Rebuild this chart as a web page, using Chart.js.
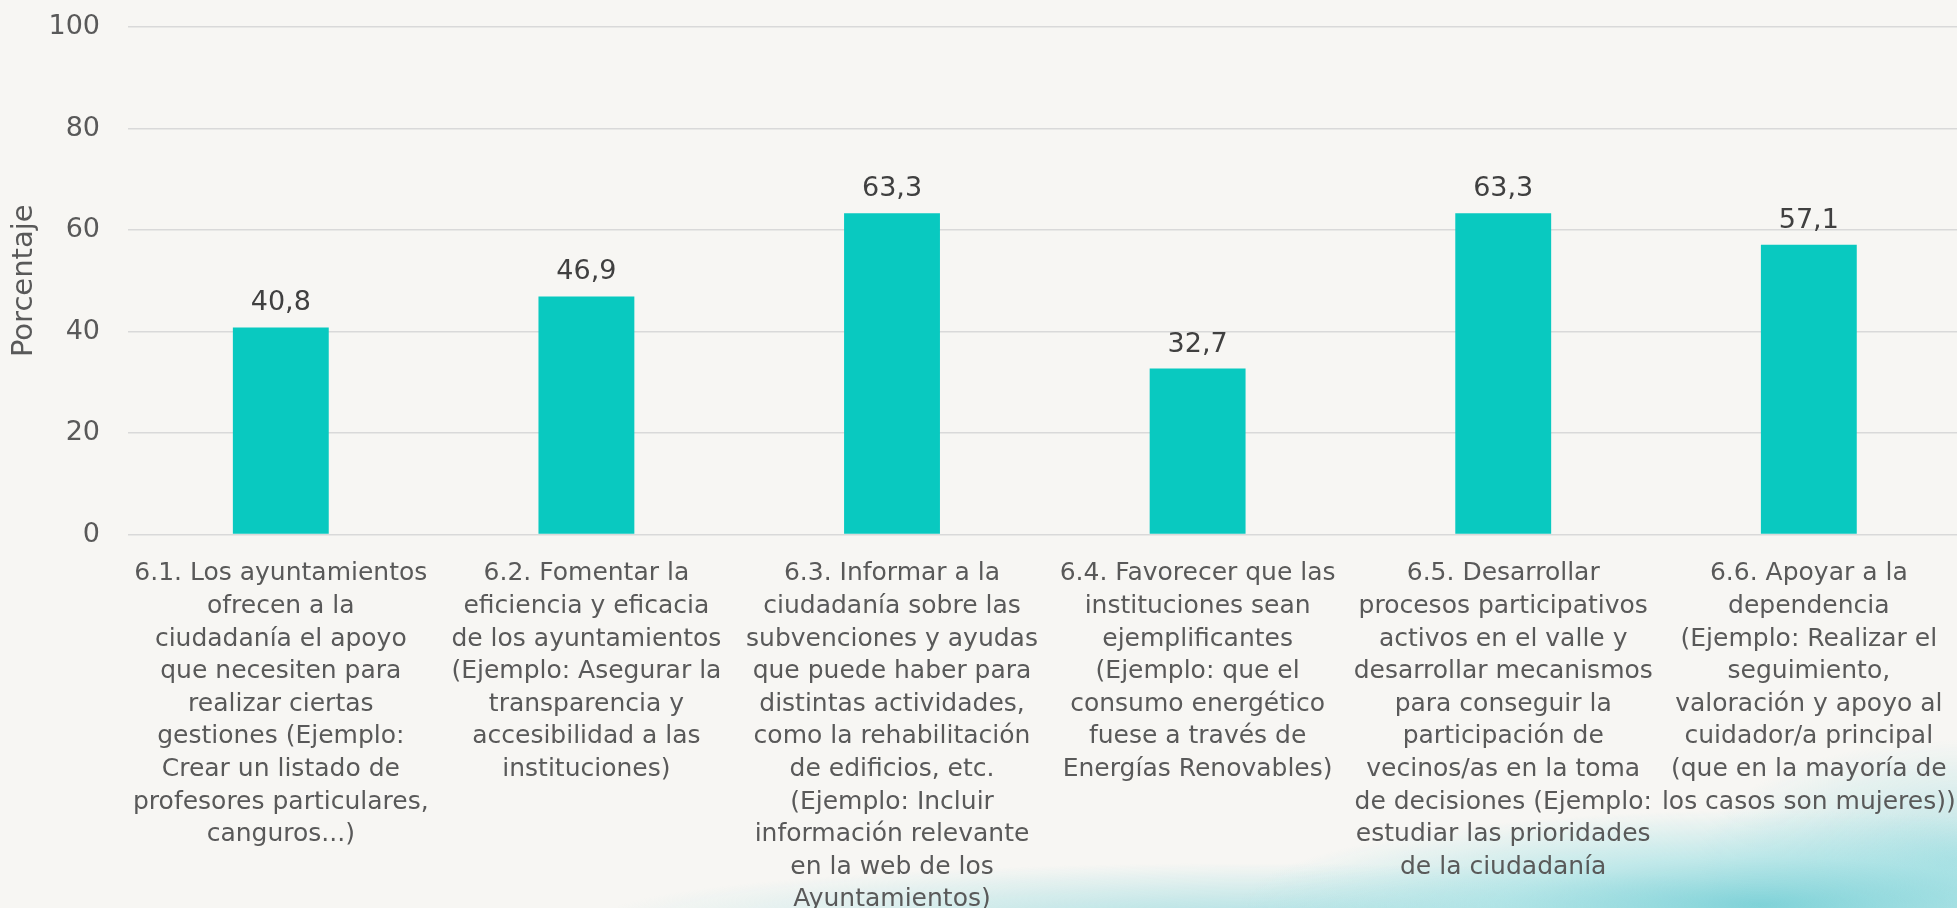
<!DOCTYPE html>
<html>
<head>
<meta charset="utf-8">
<script src="https://cdn.jsdelivr.net/npm/chart.js@4.4.0/dist/chart.umd.min.js"></script>
<style>
html,body{margin:0;padding:0;width:1957px;height:908px;overflow:hidden;}
body{
  background:
    radial-gradient(ellipse 520px 95px at 1760px 905px, rgba(110,205,212,0.85), rgba(150,222,226,0.55) 50%, rgba(247,246,243,0) 100%),
    radial-gradient(ellipse 650px 55px at 1250px 918px, rgba(130,212,218,0.6), rgba(247,246,243,0) 100%),
    radial-gradient(ellipse 260px 120px at 1957px 860px, rgba(140,215,220,0.6), rgba(247,246,243,0) 100%),
    #f7f6f3;
}
#wrap{position:absolute;left:0;top:0;width:1980px;height:908px;}
</style>
</head>
<body>
<div id="wrap"><canvas id="c"></canvas></div>
<script>
// ---- data ----
const categories = [
  ["6.1. Los ayuntamientos","ofrecen a la","ciudadanía el apoyo","que necesiten para","realizar ciertas","gestiones (Ejemplo:","Crear un listado de","profesores particulares,","canguros...)"],
  ["6.2. Fomentar la","eficiencia y eficacia","de los ayuntamientos","(Ejemplo: Asegurar la","transparencia y","accesibilidad a las","instituciones)"],
  ["6.3. Informar a la","ciudadanía sobre las","subvenciones y ayudas","que puede haber para","distintas actividades,","como la rehabilitación","de edificios, etc.","(Ejemplo: Incluir","información relevante","en la web de los","Ayuntamientos)"],
  ["6.4. Favorecer que las","instituciones sean","ejemplificantes","(Ejemplo: que el","consumo energético","fuese a través de","Energías Renovables)"],
  ["6.5. Desarrollar","procesos participativos","activos en el valle y","desarrollar mecanismos","para conseguir la","participación de","vecinos/as en la toma","de decisiones (Ejemplo:","estudiar las prioridades","de la ciudadanía"],
  ["6.6. Apoyar a la","dependencia","(Ejemplo: Realizar el","seguimiento,","valoración y apoyo al","cuidador/a principal","(que en la mayoría de","los casos son mujeres))"]
];
const values = [40.8, 46.9, 63.3, 32.7, 63.3, 57.1];
const yTicks = [0, 20, 40, 60, 80, 100];
const yTitle = "Porcentaje";

const FONT = '"DejaVu Sans", sans-serif';

const valueLabels = {
  id: 'valueLabels',
  afterDatasetsDraw(chart) {
    const ctx = chart.ctx;
    const meta = chart.getDatasetMeta(0);
    ctx.save();
    ctx.font = '27px ' + FONT;
    ctx.fillStyle = '#404040';
    ctx.textAlign = 'center';
    ctx.textBaseline = 'alphabetic';
    meta.data.forEach((bar, i) => {
      const txt = values[i].toFixed(1).replace('.', ',');
      ctx.fillText(txt, bar.x, bar.y - 17);
    });
    ctx.restore();
  }
};

new Chart(document.getElementById('c'), {
  type: 'bar',
  data: {
    labels: categories,
    datasets: [{
      data: values,
      backgroundColor: '#09c9c0',
      borderWidth: 0,
      barPercentage: 96 / 306,
      categoryPercentage: 1
    }]
  },
  options: {
    responsive: true,
    maintainAspectRatio: false,
    animation: false,
    layout: { padding: { top: 27, right: 15, left: 0, bottom: 0 } },
    plugins: { legend: { display: false }, tooltip: { enabled: false } },
    scales: {
      x: {
        offset: true,
        grid: { display: false, drawTicks: false },
        border: { display: false },
        ticks: {
          autoSkip: false,
          maxRotation: 0,
          minRotation: 0,
          padding: 23,
          color: '#595959',
          font: { family: FONT, size: 25, lineHeight: 32.6 / 25 }
        },
        afterFit(scale) { scale.height = 373.5; }
      },
      y: {
        min: 0,
        max: 100,
        afterBuildTicks(scale) { scale.ticks = yTicks.map(v => ({ value: v })); },
        grid: { color: '#d9d9d9', lineWidth: 1.6, drawTicks: false },
        border: { display: false },
        ticks: {
          padding: 28,
          color: '#595959',
          font: { family: FONT, size: 27 }
        },
        title: {
          display: true,
          text: yTitle,
          color: '#595959',
          font: { family: FONT, size: 29 },
          padding: { top: 7, bottom: 0 }
        },
        afterFit(scale) {
          scale.width = 128;
          scale.paddingTop = 0;
          scale.paddingBottom = 0;
        }
      }
    }
  },
  plugins: [valueLabels]
});
</script>
</body>
</html>
